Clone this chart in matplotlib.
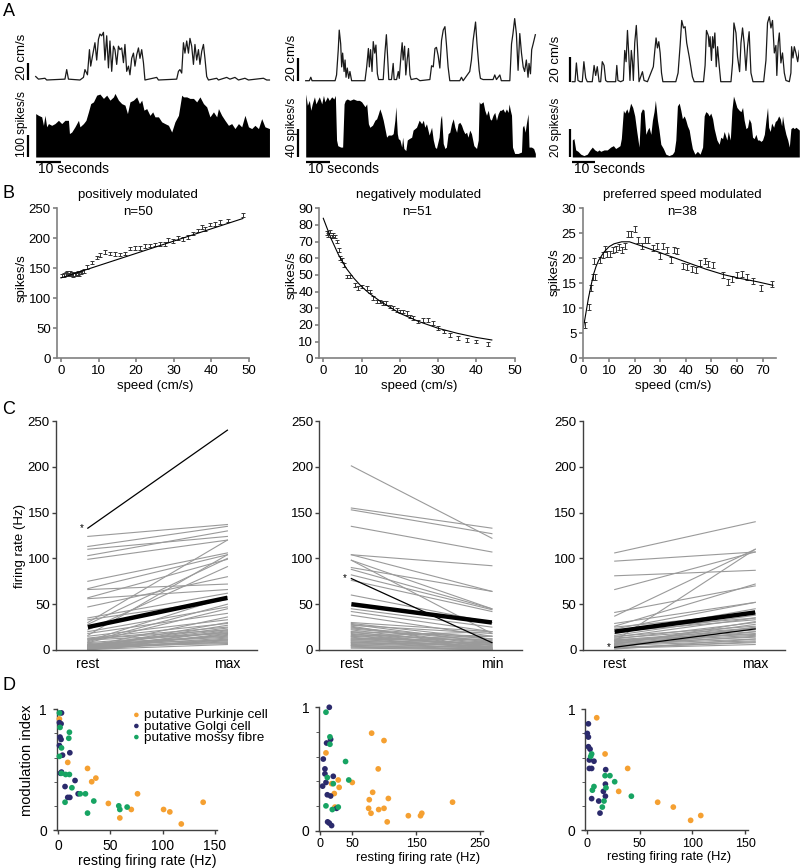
import matplotlib
matplotlib.use("Agg")
import matplotlib.pyplot as plt

plt.rcParams['font.family'] = ['Liberation Sans', 'DejaVu Sans']

# ---------------- A: example recordings (time in s, speed in cm/s, rate in spikes/s)
A1_speed_t = [0, 1.1, 3.7, 4.4, 11.7, 12.4, 13.1, 17.7, 19.1, 19.7, 20.7, 21.5, 22.0, 22.8, 23.7, 24.4, 25.1,
              25.7, 26.4, 27.1, 27.7, 28.4, 29.1, 29.7, 30.4, 31.1, 31.7, 32.4, 33.1, 33.7, 34.4, 35.1, 35.7,
              36.4, 37.1, 37.7, 38.4, 39.1, 39.7, 40.4, 41.1, 41.7, 42.4, 43.1, 43.7, 48.4, 49.1, 56.4, 57.1,
              57.7, 58.4, 59.1, 59.7, 60.4, 61.1, 61.7, 62.4, 63.1, 63.7, 64.4, 65.1, 65.7, 66.4, 67.1, 67.7,
              68.4, 69.1, 72.4, 73.1, 76.4, 77.7, 79.7, 81.1, 83.7, 85.1, 91.1, 92.4, 93.5]
A1_speed = [4, 1, 2, 0, 1, 12, 1, 0, 3, 12, 6, 35, 16, 29, 43, 23, 47, 53, 51, 55, 23, 51, 14, 45, 10, 39, 35,
            18, 39, 35, 37, 20, 41, 10, 16, 6, 25, 31, 16, 29, 37, 25, 35, 20, 0, 3, 0, 1, 10, 12, 8, 43, 31,
            45, 31, 48, 39, 18, 41, 23, 35, 18, 33, 41, 25, 4, 0, 2, 0, 3, 1, 3, 0, 2, 0, 2, 0, 0]
A1_rate_t = [0, 1.1, 2.4, 3.1, 3.7, 4.4, 5.1, 6.4, 7.7, 9.1, 10.4, 11.7, 13.1, 13.5, 14.4, 15.7, 17.1, 17.7,
             19.1, 20.1, 21.1, 22.0, 23.1, 24.4, 25.7, 27.1, 28.4, 29.7, 31.1, 31.7, 33.1, 34.4, 35.7, 36.7,
             37.7, 39.1, 40.4, 41.5, 42.4, 43.3, 44.4, 45.7, 46.8, 47.7, 49.1, 50.4, 51.7, 53.1, 54.4, 55.7,
             57.1, 58.4, 59.1, 60.4, 61.7, 63.1, 64.4, 65.7, 67.1, 68.4, 69.7, 71.1, 72.4, 73.1, 74.4, 75.7,
             77.1, 78.4, 79.7, 81.1, 82.4, 83.7, 85.1, 86.4, 87.7, 89.1, 90.4, 91.7, 93.5]
A1_rate = [200, 192, 185, 146, 192, 139, 154, 146, 154, 169, 154, 169, 169, 108, 115, 139, 169, 139, 154, 169,
           208, 246, 254, 285, 290, 270, 285, 262, 277, 293, 262, 246, 239, 200, 254, 262, 277, 246, 262, 216,
           223, 192, 208, 185, 185, 162, 154, 146, 115, 162, 192, 285, 277, 277, 270, 270, 254, 277, 246, 231,
           185, 208, 185, 223, 192, 169, 146, 154, 131, 154, 139, 192, 139, 131, 146, 131, 177, 139, 131]

A2_speed_t = [0, 1.5, 2.1, 2.6, 12.1, 12.7, 13.4, 13.8, 14.4, 14.8, 15.2, 15.8, 16.2, 16.6, 17.1, 17.7, 18.2,
              18.9, 24.4, 25.1, 25.8, 26.2, 26.7, 27.3, 27.8, 28.4, 28.9, 29.5, 30.0, 31.9, 32.6, 33.2, 33.7,
              34.2, 35.3, 36.0, 36.4, 37.4, 38.1, 38.5, 39.3, 39.7, 40.1, 40.7, 41.2, 41.8, 42.3, 42.9, 43.4,
              45.6, 47.0, 51.1, 51.8, 52.5, 53.2, 53.8, 54.5, 55.2, 55.9, 56.6, 57.3, 57.9, 58.6, 59.3, 63.4,
              64.1, 64.8, 67.5, 68.2, 68.9, 69.9, 70.5, 71.4, 71.9, 73.0, 77.1, 77.8, 78.5, 79.9, 80.5, 84.0,
              84.7, 85.3, 86.0, 86.7, 87.4, 88.1, 88.8, 89.5, 90.1, 90.8, 91.5, 91.9, 92.5, 93.0, 93.6, 94.5]
A2_speed = [0, 0, 3, 0, 0, 5, 27, 44, 32, 12, 24, 8, 18, 3, 11, 2, 8, 0, 0, 12, 28, 12, 27, 8, 34, 24, 31, 6,
            1, 1, 24, 40, 21, 1, 1, 15, 1, 1, 8, 2, 24, 33, 18, 30, 5, 19, 28, 5, 1, 2, 0, 1, 13, 12, 28, 29,
            22, 11, 35, 44, 47, 32, 12, 0, 0, 3, 0, 8, 18, 35, 51, 32, 9, 2, 1, 1, 5, 1, 5, 0, 0, 32, 41, 54,
            41, 9, 41, 24, 12, 8, 18, 3, 15, 6, 27, 32, 40]
A2_rate_t = [0, 0.7, 1.5, 2.1, 2.7, 3.6, 4.2, 4.9, 5.6, 6.6, 7.3, 7.9, 8.9, 9.7, 10.7, 11.6, 12.2, 12.7, 13.2,
             14.4, 15.2, 15.8, 16.3, 17.1, 18.2, 19.6, 21.0, 22.1, 23.0, 24.4, 25.1, 25.8, 26.4, 27.5, 28.5,
             29.2, 29.9, 30.5, 31.2, 31.9, 32.6, 33.3, 34.0, 35.3, 36.0, 36.7, 37.1, 37.7, 38.1, 38.8, 39.5,
             39.9, 40.4, 41.2, 41.8, 42.6, 43.6, 44.2, 45.6, 46.7, 47.7, 48.4, 49.0, 49.7, 50.8, 51.8, 52.5,
             53.2, 53.8, 54.9, 55.5, 55.9, 56.6, 57.3, 57.9, 58.6, 59.3, 60.0, 60.7, 61.4, 62.1, 62.7, 63.4,
             64.1, 64.8, 65.5, 66.2, 66.8, 67.5, 68.2, 69.2, 70.3, 71.0, 71.4, 71.9, 73.0, 73.7, 74.4, 75.1,
             75.8, 76.4, 77.1, 77.8, 78.5, 79.2, 79.9, 80.5, 81.2, 81.9, 82.6, 83.3, 83.7, 84.2, 84.7, 85.1,
             86.0, 87.4, 88.8, 89.2, 89.7, 90.3, 90.8, 91.5, 91.9, 92.9, 93.8, 94.5]
A2_rate = [89, 73, 80, 66, 75, 85, 75, 80, 85, 75, 87, 78, 85, 80, 85, 82, 87, 24, 16, 14, 14, 75, 80, 82, 80,
           82, 80, 80, 78, 71, 75, 47, 42, 45, 52, 54, 61, 68, 61, 52, 40, 28, 31, 31, 33, 52, 71, 33, 26, 24,
           14, 28, 12, 9, 24, 26, 28, 38, 42, 52, 47, 52, 42, 47, 31, 42, 24, 14, 12, 28, 54, 59, 19, 12, 14,
           33, 35, 47, 54, 42, 35, 47, 49, 45, 38, 33, 35, 28, 38, 33, 16, 12, 24, 78, 75, 78, 66, 59, 66, 54,
           52, 59, 63, 52, 61, 66, 66, 68, 63, 68, 63, 75, 66, 59, 14, 5, 5, 7, 42, 45, 35, 47, 61, 14, 14,
           12, 5]

A3_speed_t = [0, 1.2, 1.8, 2.5, 3.4, 4.4, 5.1, 5.9, 6.6, 8.8, 9.6, 10.3, 11.0, 11.8, 12.5, 13.2, 14.0, 14.7,
              15.4, 19.1, 19.6, 20.1, 21.3, 22.5, 23.1, 23.7, 24.3, 24.9, 25.4, 26.0, 26.5, 26.9, 27.5, 28.2,
              28.7, 29.4, 30.9, 31.6, 33.1, 35.7, 36.3, 36.9, 37.5, 38.1, 38.7, 39.3, 39.9, 45.6, 46.6, 47.5,
              48.2, 49.0, 49.7, 50.4, 51.5, 52.2, 52.9, 53.7, 57.8, 58.5, 59.1, 59.9, 60.3, 60.7, 61.3, 61.8,
              62.2, 62.8, 63.4, 64.0, 64.7, 65.4, 69.9, 70.6, 71.2, 72.1, 72.8, 73.7, 74.3, 75.0, 75.7, 76.5,
              77.2, 77.9, 78.7, 79.6, 84.3, 85.3, 86.0, 86.8, 87.5, 88.2, 89.0, 89.7, 90.1, 90.7, 91.2, 91.9,
              92.6, 93.4, 94.1, 95.6, 96.3, 96.6, 97.2, 97.8, 98.5, 99.3, 100.0]
A3_speed = [0, 0, 15, 1, 0, 0, 16, 3, 0, 0, 13, 5, 12, 0, 0, 16, 13, 1, 0, 0, 13, 1, 0, 1, 25, 16, 41, 21, 1,
            25, 16, 1, 31, 45, 28, 0, 8, 1, 0, 12, 24, 35, 27, 32, 23, 7, 0, 0, 7, 29, 49, 43, 44, 31, 20, 12,
            4, 0, 0, 13, 41, 37, 28, 36, 17, 36, 27, 39, 12, 28, 13, 0, 0, 15, 47, 39, 20, 8, 31, 43, 31, 9,
            28, 40, 7, 0, 0, 17, 47, 52, 43, 49, 23, 29, 5, 31, 39, 15, 23, 7, 1, 0, 7, 28, 19, 28, 23, 16, 25]
A3_rate_t = [0, 0.7, 1.5, 2.5, 3.7, 5.1, 6.6, 7.8, 8.8, 9.9, 11.0, 11.8, 12.5, 14.0, 15.4, 16.9, 18.1, 19.1,
             20.1, 21.0, 21.6, 22.5, 23.1, 24.0, 24.7, 25.7, 26.6, 27.5, 28.4, 29.4, 30.1, 30.9, 31.6, 32.4,
             33.1, 33.8, 34.6, 35.3, 36.0, 36.6, 37.5, 38.2, 39.0, 40.1, 41.2, 42.6, 44.1, 44.9, 45.6, 46.3,
             47.1, 47.8, 48.5, 49.3, 50.0, 50.7, 51.5, 52.2, 52.9, 54.0, 55.1, 56.3, 57.4, 58.1, 58.8, 59.6,
             60.3, 61.0, 61.8, 62.5, 63.7, 64.7, 65.4, 66.2, 66.9, 68.1, 68.7, 69.6, 70.3, 71.0, 71.6, 72.5,
             73.5, 74.3, 75.0, 75.7, 76.5, 77.2, 77.9, 78.7, 79.4, 80.1, 80.9, 81.6, 82.4, 83.1, 83.8, 84.6,
             85.3, 86.0, 86.5, 87.2, 87.8, 88.7, 89.4, 90.1, 90.9, 91.6, 92.2, 92.6, 93.4, 94.1, 94.9, 95.6,
             96.3, 97.1, 97.8, 98.5, 99.3, 100.0]
A3_rate = [12, 13, 5, 4, 2, 1, 2, 5, 7, 5, 4, 5, 4, 5, 5, 7, 8, 6, 7, 8, 13, 33, 31, 34, 31, 38, 35, 29, 18, 7,
           31, 34, 33, 16, 19, 21, 16, 26, 32, 40, 26, 19, 9, 6, 2, 1, 2, 4, 12, 36, 38, 33, 27, 29, 26, 22,
           19, 12, 6, 2, 4, 2, 7, 29, 32, 31, 29, 31, 27, 20, 12, 9, 14, 13, 18, 12, 18, 12, 33, 43, 40, 35,
           33, 32, 35, 26, 20, 21, 27, 24, 14, 13, 16, 12, 12, 11, 12, 16, 26, 35, 21, 18, 24, 21, 25, 26, 29,
           27, 22, 29, 21, 16, 12, 7, 20, 21, 20, 21, 20, 19]

# ---------------- B: population speed tuning
B1_speed = [0.3, 0.8, 1.2, 1.6, 2.0, 2.4, 2.8, 3.2, 3.6, 4.0, 4.4, 4.8, 5.2, 5.6, 6.0, 6.8, 8.2, 9.5, 10.4,
            11.7, 13.1, 14.4, 15.7, 17.1, 18.4, 19.7, 21.1, 22.4, 23.7, 25.1, 26.4, 27.7, 28.6, 29.9, 31.3,
            32.6, 33.9, 35.3, 36.6, 37.5, 38.4, 39.6, 41.1, 42.4, 44.6, 48.4]
B1_rate = [138, 139, 141, 143, 140, 142, 141, 139, 141, 140, 142, 141, 143, 145, 146, 152, 160, 168, 172, 177,
           175, 174, 173, 175, 183, 184, 184, 187, 188, 190, 191, 191, 197, 196, 201, 199, 202, 208, 213, 219,
           216, 223, 224, 227, 230, 239]
B1_fit_x = [0, 48.5]
B1_fit_y = [134, 233]

B2_speed = [0.9, 1.3, 1.7, 2.2, 2.6, 3.0, 3.5, 4.0, 4.4, 4.8, 5.3, 6.1, 7.0, 8.3, 9.1, 10.0, 11.3, 12.2, 13.1,
            13.9, 14.8, 15.7, 16.5, 17.4, 18.3, 19.2, 20.0, 20.9, 21.8, 22.6, 23.5, 24.8, 26.1, 27.4, 28.7,
            30.0, 31.5, 33.1, 35.2, 37.4, 40.0, 43.1]
B2_rate = [75, 74, 76, 73, 74, 73, 70, 65, 60, 59, 56, 49, 49, 44, 42, 43, 42, 40, 36, 34, 34, 33, 33, 31, 30,
           29, 28, 28, 27, 25, 24, 22, 23, 23, 21, 18, 16, 14, 12, 11, 10, 8.5]
B2_fit_x = [0, 1, 2, 3, 4, 5, 6, 8, 10, 12, 15, 20, 25, 30, 35, 40, 44]
B2_fit_y = [84, 78, 72, 67, 62, 58, 54, 48, 43, 39, 34, 27, 22, 18, 15, 12.5, 11]

B3_speed = [0.7, 2.4, 3.0, 3.9, 4.3, 4.6, 6.5, 7.8, 8.5, 9.1, 10.4, 11.7, 12.8, 13.8, 15.0, 16.3, 17.6, 18.5,
            20.2, 21.5, 22.8, 24.1, 25.4, 27.3, 28.7, 30.0, 31.0, 32.6, 34.3, 35.2, 36.5, 38.8, 40.4, 42.3,
            44.0, 45.6, 47.3, 48.8, 50.8, 54.5, 56.4, 58.0, 59.9, 61.9, 63.8, 66.4, 69.3, 73.6]
B3_rate = [6.7, 10.3, 14.0, 16.2, 19.5, 16.3, 19.6, 20.6, 21.9, 20.8, 20.8, 21.6, 21.9, 22.3, 21.6, 22.4, 24.8,
           24.9, 25.8, 23.7, 22.5, 23.7, 23.6, 22.0, 22.5, 20.5, 22.5, 21.7, 19.7, 21.7, 21.4, 18.5, 18.2, 17.9,
           17.6, 19.1, 19.5, 18.9, 18.7, 16.7, 15.2, 15.9, 16.7, 16.8, 16.3, 15.5, 14.1, 14.9]
B3_fit_x = [0, 1, 2, 3, 4, 5, 6, 8, 10, 12, 15, 18, 22, 28, 35, 42, 48, 55, 61, 68, 74]
B3_fit_y = [6, 9, 12, 14.5, 16.8, 18.4, 19.6, 21.2, 22.3, 22.9, 23.3, 23.3, 22.6, 21.5, 20.2, 18.9, 17.8,
            16.7, 16.0, 15.3, 14.6]

# ---------------- C: firing rate at rest vs. at max / min speed
C1_rest = [124, 113, 110, 103, 99, 75, 67, 66, 57, 56, 47, 35, 33, 30, 28, 22, 20, 18, 16, 15, 13, 12, 11, 10,
           9, 8, 7, 6, 5, 5, 4, 4, 3, 3, 2, 2, 1, 1, 0.5, 0.5, 12, 8, 6, 4, 2, 1, 3, 5, 0.5]
C1_end = [137, 135, 124, 130, 120, 106, 104, 72, 99, 66, 80, 62, 55, 120, 100, 91, 47, 40, 104, 33, 29, 22, 18,
          58, 50, 45, 15, 11, 22, 8, 36, 7, 13, 30, 20, 10, 9, 17, 12, 6, 25, 19, 14, 16, 21, 11, 27, 24, 18]
C1_mean = [25, 57]
C1_star = [133, 240]

C2_rest = [201, 155, 153, 135, 104, 104, 98, 98, 90, 88, 82, 76, 60, 45, 42, 38, 30, 29, 28, 27, 25, 23, 22,
           20, 19, 18, 17, 16, 15, 14, 13, 12, 11, 10, 9, 8, 7, 6, 5, 5, 4, 20, 24, 26, 10, 12, 8, 3, 2, 15]
C2_end = [122, 133, 127, 107, 92, 64, 18, 45, 64, 45, 44, 42, 30, 25, 20, 15, 20, 12, 8, 18, 5, 10, 3, 15, 8,
          2, 10, 5, 20, 1, 7, 3, 12, 4, 1, 6, 2, 9, 1, 3, 0.5, 1, 12, 2, 8, 15, 4, 1, 0.5, 6]
C2_mean = [50, 30]
C2_star = [78, 8]

C3_rest = [106, 97, 81, 66, 41, 37, 29, 26, 23, 18, 16, 14, 12, 10, 25, 22, 20, 15, 13, 11, 10, 9, 8, 7, 6, 5,
           4, 3, 2, 1, 5, 7, 9, 11, 3, 2, 6]
C3_end = [140, 107, 87, 107, 70, 110, 52, 72, 52, 45, 38, 35, 30, 110, 40, 35, 33, 26, 24, 22, 20, 18, 16, 14,
          12, 10, 25, 8, 6, 12, 15, 28, 24, 17, 20, 9, 31]
C3_mean = [20, 41]
C3_star = [3, 23]

# ---------------- D: modulation index vs resting rate
D1_pc_x = [1, 9, 28, 32, 36, 48, 59, 70, 76, 101, 107, 118, 139]
D1_pc_y = [0.92, 0.56, 0.51, 0.40, 0.43, 0.22, 0.10, 0.17, 0.30, 0.17, 0.15, 0.05, 0.23]
D1_gc_x = [3, 1, 2.6, 1.6, 2.6, 1, 4, 11, 3, 2, 6.4, 16, 9, 11, 19]
D1_gc_y = [0.97, 0.89, 0.88, 0.77, 0.75, 0.70, 0.62, 0.64, 0.48, 0.47, 0.36, 0.41, 0.27, 0.27, 0.30]
D1_mf_x = [1, 1.6, 10.6, 10, 3, 1, 3, 7, 10.6, 13, 6.4, 21, 26, 34, 28, 58, 59, 66]
D1_mf_y = [0.97, 0.85, 0.81, 0.76, 0.68, 0.61, 0.47, 0.46, 0.46, 0.35, 0.23, 0.30, 0.30, 0.24, 0.14, 0.20,
           0.17, 0.19]

D2_pc_x = [9.4, 18.2, 28.6, 30, 22.4, 23.4, 50.5, 80.7, 100, 91, 82.3, 77, 76, 79.7, 91.7, 100, 106.8, 105,
           138, 157, 159, 207]
D2_pc_y = [0.63, 0.38, 0.41, 0.35, 0.30, 0.19, 0.39, 0.79, 0.73, 0.50, 0.31, 0.25, 0.18, 0.14, 0.17, 0.18,
           0.26, 0.07, 0.12, 0.12, 0.14, 0.23]
D2_gc_x = [14.6, 10.4, 16.7, 5.2, 7.8, 7.8, 20.8, 9.4, 4.2, 11.5, 16.7, 26, 12, 14.6, 18.2]
D2_gc_y = [1.0, 0.71, 0.74, 0.58, 0.50, 0.46, 0.44, 0.39, 0.36, 0.29, 0.28, 0.18, 0.07, 0.06, 0.04]
D2_mf_x = [9.4, 15.6, 15.6, 11.5, 20.8, 40, 45, 9.4, 19.3, 28.6]
D2_mf_y = [0.96, 0.76, 0.70, 0.43, 0.38, 0.56, 0.41, 0.20, 0.17, 0.19]

D3_pc_x = [9.5, 17.4, 38.8, 30.3, 67.2, 82, 98.4, 108]
D3_pc_y = [0.93, 0.63, 0.51, 0.32, 0.23, 0.19, 0.08, 0.12]
D3_gc_x = [1.6, 0.6, 1.6, 1.6, 3.2, 2.5, 6.9, 2.5, 4.7, 18, 17.7, 17.7, 4.7, 15.8, 11.4, 12.6]
D3_gc_y = [0.88, 0.80, 0.77, 0.69, 0.67, 0.58, 0.57, 0.51, 0.51, 0.50, 0.38, 0.28, 0.26, 0.32, 0.24, 0.14]
D3_mf_x = [4.7, 3.8, 6.9, 5.4, 17.4, 22, 26.5, 18.3, 16.4, 14.8, 42.3]
D3_mf_y = [0.63, 0.61, 0.36, 0.33, 0.45, 0.45, 0.40, 0.35, 0.24, 0.19, 0.28]

cell_names = ['putative Purkinje cell', 'putative Golgi cell', 'putative mossy fibre']
cell_colors = ['#F5A031', '#2B2A6C', '#17A463']

W, H = 800.0, 868.0
fig = plt.figure(figsize=(8, 8.68), dpi=100)


def add_ax(left, top, right, bottom):
    # axes placed by pixel edges of the 800x868 canvas
    return fig.add_axes([left / W, 1 - bottom / H, (right - left) / W, (bottom - top) / H])


def ftext(x, y, s, **kw):
    fig.text(x / W, 1 - y / H, s, **kw)


# ================= row A
def trace_panel(left, right, t0, px_s, sp_top, sp_base, sp_px, fr_px, bar_t,
                t_sp, sp, t_fr, fr, fr_bar, lab_x):
    xl = ((left - t0) / px_s, (right - t0) / px_s)
    ax = add_ax(left, sp_top, right, sp_base + 2)
    ax.plot(t_sp, sp, color='#1a1a1a', lw=0.9)
    ax.plot([bar_t, bar_t], [0, 20], color='k', lw=1.6, solid_capstyle='butt')
    ax.set_xlim(xl)
    ax.set_ylim(-2 / sp_px, (sp_base - sp_top) / sp_px)
    ax.axis('off')

    fr_base = 157
    ax = add_ax(left, 86, right, 165)
    ax.fill_between(t_fr, 0, fr, color='k', lw=0)
    ax.plot([bar_t, bar_t], [0, fr_bar], color='k', lw=1.6, solid_capstyle='butt')
    ax.plot([0, 10], [-5 / fr_px, -5 / fr_px], color='k', lw=1.6, solid_capstyle='butt')
    ax.set_xlim(xl)
    ax.set_ylim(-(165 - fr_base) / fr_px, (fr_base - 86) / fr_px)
    ax.axis('off')

    ftext(lab_x, sp_base, '20 cm/s', rotation=90, ha='center', va='bottom', fontsize=9.5)
    ftext(lab_x, fr_base, '%d spikes/s' % fr_bar, rotation=90, ha='center', va='bottom', fontsize=8.6)
    ftext(t0 + 2, 169, '10 seconds', ha='left', va='center', fontsize=10)


trace_panel(24, 271, 35.7, 2.5, 20, 80, 0.867, 0.217, -3.1,
            A1_speed_t, A1_speed, A1_rate_t, A1_rate, 100, 22)
trace_panel(294, 538, 305.7, 2.43, 14, 80.7, 1.15, 0.708, -3.0,
            A2_speed_t, A2_speed, A2_rate_t, A2_rate, 40, 292)
trace_panel(562, 799, 572.3, 2.27, 14, 81.7, 1.25, 1.417, -0.8,
            A3_speed_t, A3_speed, A3_rate_t, A3_rate, 20, 556)


# ================= row B
def style_axes(ax, color, lw):
    for s in ['top', 'right']:
        ax.spines[s].set_visible(False)
    for s in ['left', 'bottom']:
        ax.spines[s].set_color(color)
        ax.spines[s].set_linewidth(lw)
    ax.tick_params(color=color, width=lw, length=3)


def tuning_panel(box, spd, rate, err, fit_x, fit_y, xlim, ylim, yticks, xticks):
    ax = add_ax(*box)
    ax.errorbar(spd, rate, yerr=err, fmt='none', ecolor='#333333', elinewidth=0.7,
                capsize=1.7, capthick=0.7)
    ax.plot(fit_x, fit_y, color='k', lw=0.8)
    ax.set_xlim(xlim)
    ax.set_ylim(ylim)
    ax.set_yticks(yticks)
    ax.set_xticks(xticks)
    style_axes(ax, '#808080', 1.2)
    ax.tick_params(labelsize=9.5, pad=1.5)
    return ax


tuning_panel((57, 208.3, 248.5, 358.3), B1_speed, B1_rate, 3, B1_fit_x, B1_fit_y,
             (-1.07, 50), (0, 250), range(0, 251, 50), range(0, 51, 10))
tuning_panel((319.3, 208.3, 514.8, 358.3), B2_speed, B2_rate, 1.1, B2_fit_x, B2_fit_y,
             (-1.04, 50), (0, 90), range(0, 91, 10), range(0, 51, 10))
tuning_panel((582.7, 208.3, 775.5, 358.3), B3_speed, B3_rate, 0.6, B3_fit_x, B3_fit_y,
             (-0.23, 75), (0, 30), range(0, 31, 5), range(0, 71, 10))

for x, y in [(22, 278), (292, 275), (555, 272)]:
    ftext(x, y, 'spikes/s', rotation=90, ha='center', va='center', fontsize=9.5)
for x in [155, 419, 673]:
    ftext(x, 386, 'speed (cm/s)', ha='center', va='center', fontsize=9.5)

ftext(138, 195, 'positively modulated', ha='center', va='center', fontsize=9.5)
ftext(138, 212, 'n=50', ha='center', va='center', fontsize=9.5)
ftext(419, 195, 'negatively modulated', ha='center', va='center', fontsize=9.5)
ftext(417, 212, 'n=51', ha='center', va='center', fontsize=9.5)
ftext(682, 195, 'preferred speed modulated', ha='center', va='center', fontsize=9.5)
ftext(682, 212, 'n=38', ha='center', va='center', fontsize=9.5)


# ================= row C
def paired_panel(box, rest, end, mean, star, end_label):
    ax = add_ax(*box)
    for r, e in zip(rest, end):
        ax.plot([0, 1], [r, e], color='#9a9a9a', lw=0.8)
    ax.plot([0, 1], star, color='k', lw=0.9)
    ax.plot([0, 1], mean, color='k', lw=3.2, solid_capstyle='butt')
    ax.text(-0.03, star[0], '*', ha='right', va='center', fontsize=7)
    ax.set_xlim(-0.228, 1.212)
    ax.set_ylim(0, 250)
    ax.set_yticks(range(0, 251, 50))
    ax.set_xticks([0, 1])
    ax.set_xticklabels(['rest', end_label])
    style_axes(ax, '#404040', 1.0)
    ax.tick_params(axis='x', length=0, pad=5, labelsize=10)
    ax.tick_params(axis='y', labelsize=9.5, pad=1.5)


paired_panel((56, 421, 257, 650), C1_rest, C1_end, C1_mean, C1_star, 'max')
paired_panel((319.3, 421, 521.7, 650), C2_rest, C2_end, C2_mean, C2_star, 'min')
paired_panel((582.7, 421, 785, 650), C3_rest, C3_end, C3_mean, C3_star, 'max')
ftext(20, 546, 'firing rate (Hz)', rotation=90, ha='center', va='center', fontsize=9.5)


# ================= row D
def mi_panel(box, groups, xlim, xticks, tick_size, legend=False):
    ax = add_ax(*box)
    for (gx, gy), c, name in zip(groups, cell_colors, cell_names):
        ax.scatter(gx, gy, s=17, color=c, edgecolors='none', label=name, clip_on=False, zorder=3)
    ax.set_xlim(xlim)
    ax.set_ylim(0, 1)
    ax.set_yticks([0, 1])
    ax.set_yticks([0.2, 0.4, 0.6, 0.8], minor=True)
    ax.set_xticks(xticks)
    style_axes(ax, '#404040', 1.0)
    ax.tick_params(which='minor', length=2.5, color='#404040')
    ax.tick_params(axis='y', labelsize=10, pad=4)
    ax.tick_params(axis='x', labelsize=tick_size, pad=2.5 if tick_size < 10 else 3.5)
    if legend:
        ax.legend(loc='upper left', bbox_to_anchor=(133 / W, 1 - 709 / H), bbox_transform=fig.transFigure,
                  frameon=False, fontsize=9.7, handlelength=0.5, handletextpad=0.35, borderpad=0,
                  borderaxespad=0, labelspacing=-0.1, markerscale=0.8)
    return ax


mi_panel((56.7, 709.3, 216.7, 830), [(D1_pc_x, D1_pc_y), (D1_gc_x, D1_gc_y), (D1_mf_x, D1_mf_y)],
         (-1.6, 152), [0, 50, 100, 150], 10, legend=True)
mi_panel((319.3, 707.3, 483.3, 830.5), [(D2_pc_x, D2_pc_y), (D2_gc_x, D2_gc_y), (D2_mf_x, D2_mf_y)],
         (-1, 255), [0, 50, 150, 250], 9)
mi_panel((585, 709.3, 748.3, 830), [(D3_pc_x, D3_pc_y), (D3_gc_x, D3_gc_y), (D3_mf_x, D3_mf_y)],
         (-1.6, 153), [0, 50, 100, 150], 9)

ftext(27, 760, 'modulation index', rotation=90, ha='center', va='center', fontsize=10.5)
ftext(147, 861, 'resting firing rate (Hz)', ha='center', va='center', fontsize=10.3)
ftext(418, 858, 'resting firing rate (Hz)', ha='center', va='center', fontsize=9.3)
ftext(669, 857, 'resting firing rate (Hz)', ha='center', va='center', fontsize=9.3)

# panel letters
for lab, y in [('A', 11), ('B', 193), ('C', 410), ('D', 686)]:
    ftext(9, y, lab, ha='center', va='center', fontsize=13)

fig.savefig('out.png', dpi=100)
